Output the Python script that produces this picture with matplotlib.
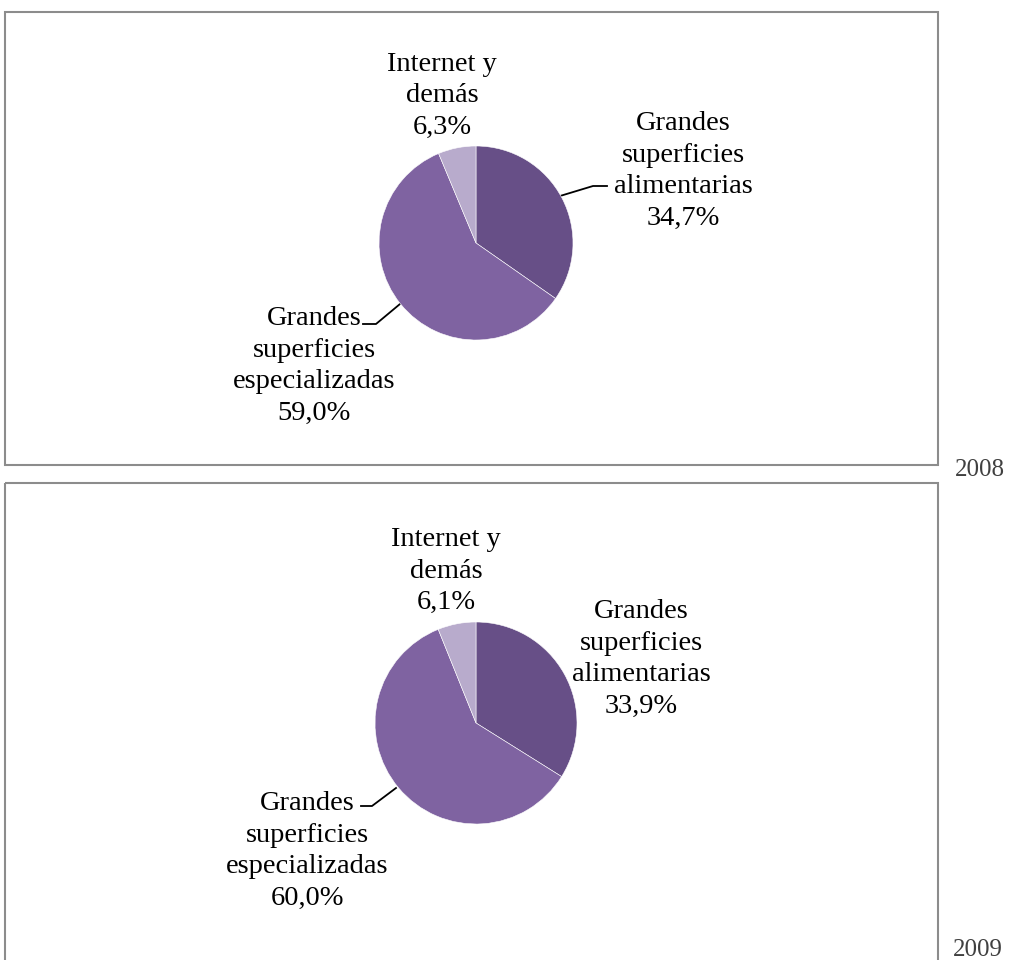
import matplotlib.pyplot as plt
from matplotlib.patches import Rectangle

# data
years = ["2008", "2009"]
labels = ["Grandes\nsuperficies\nalimentarias", "Grandes\nsuperficies\nespecializadas", "Internet y\ndemás"]
shares_2008 = [34.7, 59.0, 6.3]
shares_2009 = [33.9, 60.0, 6.1]
colors = ["#674F87", "#7F63A1", "#B8ABCC"]

W, H = 1009, 960
fig = plt.figure(figsize=(W / 100, H / 100), dpi=100)

# background axes in pixel coordinates
bg = fig.add_axes([0, 0, 1, 1])
bg.set_xlim(0, W)
bg.set_ylim(H, 0)
bg.axis("off")

serif = "Liberation Serif"


def fmt(v):
    return f"{v:.1f}".replace(".", ",") + "%"


def draw_panel(shares, year, box, center, r, lab_pos, leaders, year_pos):
    x0, y0, x1, y1 = box
    bg.add_patch(Rectangle((x0, y0), x1 - x0, y1 - y0, fill=False,
                           edgecolor="#8C8C8C", linewidth=1.5))
    cx, cy = center
    ax = fig.add_axes([(cx - r) / W, (H - cy - r) / H, 2 * r / W, 2 * r / H])
    ax.pie(shares, colors=colors, startangle=90, counterclock=False,
           wedgeprops=dict(edgecolor="white", linewidth=0.4))
    ax.set_xlim(-1, 1)
    ax.set_ylim(-1, 1)
    ax.set_aspect("auto")
    ax.axis("off")
    for lab, v, (lx, ly) in zip(labels, shares, lab_pos):
        bg.text(lx, ly, lab + "\n" + fmt(v), ha="center", va="center",
                fontsize=20.5, family=serif, linespacing=1.36, color="black")
    for pts in leaders:
        xs, ys = zip(*pts)
        bg.plot(xs, ys, color="black", linewidth=1.3)
    bg.text(year_pos[0], year_pos[1], year, ha="center", va="center",
            fontsize=18, family=serif, color="#404040")


draw_panel(shares_2008, years[0], (5, 12, 938, 465), (476, 243), 97,
           [(683, 171), (314, 366), (442, 96)],
           [[(560, 196), (593, 186), (607, 186)],
            [(400, 304), (376, 324), (363, 324)]],
           (980, 470))

draw_panel(shares_2009, years[1], (5, 483, 938, 975), (476, 723), 101,
           [(641, 659), (307, 851), (446, 571)],
           [[(396, 788), (372, 806), (361, 806)]],
           (978, 950))

fig.savefig("out.png", dpi=100)
